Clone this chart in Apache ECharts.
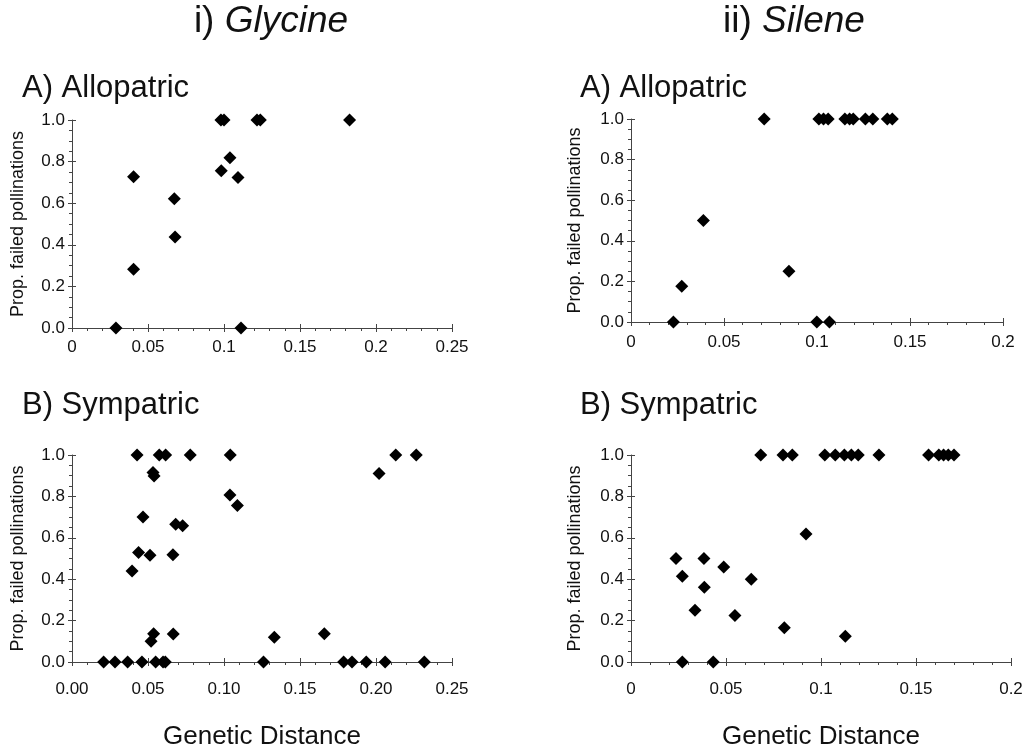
<!DOCTYPE html>
<html>
<head>
<meta charset="utf-8">
<script src="https://cdn.jsdelivr.net/npm/echarts@6/dist/echarts.min.js"></script>
<style>
  html, body { margin: 0; padding: 0; background: #fff; }
  #chart { width: 1024px; height: 747px; }
</style>
</head>
<body>
<div id="chart"></div>
<script>
// i) Glycine, A) Allopatric
var glyAlloX = [0.0289, 0.0405, 0.0405, 0.0673, 0.0678, 0.098, 0.1, 0.0982, 0.1039, 0.1092, 0.1112, 0.1217, 0.1239, 0.1826];
var glyAlloY = [0, 0.727, 0.283, 0.621, 0.437, 1, 1, 0.756, 0.819, 0.724, 0, 1, 1, 1];

// ii) Silene, A) Allopatric
var silAlloX = [0.0228, 0.0273, 0.0389, 0.0716, 0.0849, 0.0999, 0.1067, 0.101, 0.1035, 0.106, 0.115, 0.1175, 0.1195, 0.126, 0.130, 0.1378, 0.1405];
var silAlloY = [0, 0.176, 0.5, 1, 0.25, 0, 0, 1, 1, 1, 1, 1, 1, 1, 1, 1, 1];

// i) Glycine, B) Sympatric
var glySymX = [0.0395, 0.0428, 0.0438, 0.0467, 0.0513, 0.052, 0.0537, 0.0533, 0.054, 0.0574, 0.0616, 0.0664, 0.0666, 0.0682, 0.0728, 0.0778, 0.1041, 0.1039, 0.1088, 0.1331, 0.166, 0.202, 0.213, 0.2265,
               0.0208, 0.0283, 0.0366, 0.046, 0.055, 0.0599, 0.0614, 0.126, 0.1787, 0.1842, 0.1936, 0.206, 0.2318];
var glySymY = [0.44, 1, 0.529, 0.70, 0.516, 0.10, 0.137, 0.915, 0.899, 1, 1, 0.518, 0.135, 0.666, 0.658, 1, 1, 0.807, 0.756, 0.12, 0.137, 0.911, 1, 1,
               0, 0, 0, 0, 0, 0, 0, 0, 0, 0, 0, 0, 0];

// ii) Silene, B) Sympatric
var silSymX = [0.0237, 0.027, 0.027, 0.0337, 0.0384, 0.0386, 0.0433, 0.0488, 0.0547, 0.0633, 0.0807, 0.0921, 0.1128,
               0.0683, 0.080, 0.0849, 0.102, 0.1075, 0.1123, 0.116, 0.1196, 0.1305, 0.1566, 0.162, 0.1645, 0.167, 0.170];
var silSymY = [0.5, 0.414, 0, 0.25, 0.5, 0.361, 0, 0.459, 0.225, 0.40, 0.166, 0.618, 0.124,
               1, 1, 1, 1, 1, 1, 1, 1, 1, 1, 1, 1, 1, 1];

var xMax = [0.25, 0.2, 0.25, 0.2];
var yTicks = ["0.0", "0.2", "0.4", "0.6", "0.8", "1.0"];

function pairs(xs, ys) {
  return xs.map(function (x, i) { return [x, ys[i]]; });
}

var chart = echarts.init(document.getElementById("chart"));
var ink = "#111";
var axisGrey = "#444";

var grids = [
  { left: 72, top: 120, width: 380, height: 208, outerBoundsMode: "none" },
  { left: 631, top: 119, width: 372, height: 203, outerBoundsMode: "none" },
  { left: 72, top: 455, width: 380, height: 207, outerBoundsMode: "none" },
  { left: 631, top: 455, width: 380, height: 207, outerBoundsMode: "none" }
];
var labelMargin = [11, 12, 19, 19];

var xAxes = [], yAxes = [];
grids.forEach(function (g, i) {
  xAxes.push({
    gridIndex: i, type: "value", position: "bottom", min: 0, max: xMax[i], interval: 0.05,
    axisLine: { lineStyle: { color: axisGrey, width: 1 } },
    axisTick: { show: true, length: 4, lineStyle: { color: axisGrey } },
    minorTick: { show: true, splitNumber: 5, length: 3, lineStyle: { color: axisGrey } },
    splitLine: { show: false },
    axisLabel: {
      color: ink, fontSize: 17, fontFamily: "Liberation Sans, Arial", margin: labelMargin[i],
      formatter: i === 2 ? function (v) { return v.toFixed(2); } : null
    },
    name: i >= 2 ? "Genetic Distance" : "",
    nameLocation: "middle", nameGap: 62,
    nameTextStyle: { color: ink, fontSize: 26, fontFamily: "Liberation Sans, Arial" }
  });
  xAxes.push({
    gridIndex: i, type: "value", position: "bottom", min: 0, max: xMax[i], interval: 0.05,
    axisLine: { show: false },
    axisTick: { show: true, inside: true, length: 4, lineStyle: { color: axisGrey } },
    axisLabel: { show: false }, splitLine: { show: false }
  });
  yAxes.push({
    gridIndex: i, type: "value", position: "left", min: 0, max: 1, interval: 0.2,
    axisLine: { show: true, lineStyle: { color: axisGrey, width: 1 } },
    axisTick: { show: true, length: 4, lineStyle: { color: axisGrey } },
    minorTick: { show: true, splitNumber: 4, length: 3, lineStyle: { color: axisGrey } },
    splitLine: { show: false },
    axisLabel: {
      color: ink, fontSize: 17, fontFamily: "Liberation Sans, Arial", margin: 7,
      formatter: function (v) { return yTicks[Math.round(v * 5)]; }
    },
    name: "Prop. failed pollinations",
    nameLocation: "middle", nameGap: i % 2 === 0 ? 45 : 47,
    nameTextStyle: { color: ink, fontSize: 18, fontFamily: "Liberation Sans, Arial" }
  });
  yAxes.push({
    gridIndex: i, type: "value", position: "left", min: 0, max: 1, interval: 0.2,
    axisLine: { show: false },
    axisTick: { show: true, inside: true, length: 4, lineStyle: { color: axisGrey } },
    axisLabel: { show: false }, splitLine: { show: false }
  });
});

var sets = [
  pairs(glyAlloX, glyAlloY),
  pairs(silAlloX, silAlloY),
  pairs(glySymX, glySymY),
  pairs(silSymX, silSymY)
];

var series = sets.map(function (d, i) {
  return {
    type: "scatter", xAxisIndex: i * 2, yAxisIndex: i * 2, data: d,
    symbol: "diamond", symbolSize: 13, itemStyle: { color: "#000", opacity: 1 },
    clip: false, silent: true
  };
});

function txt(x, y, text, size, align, rich) {
  return {
    type: "text", x: x, y: y, silent: true,
    style: {
      text: text, fill: ink, align: align, verticalAlign: "middle",
      font: size + "px 'Liberation Sans', Arial", rich: rich
    }
  };
}
var richTitle = {
  n: { fontSize: 37, fontFamily: "Liberation Sans, Arial", fill: ink },
  it: { fontSize: 37, fontStyle: "italic", fontFamily: "Liberation Sans, Arial", fill: ink }
};

chart.setOption({
  animation: false,
  backgroundColor: "#fff",
  grid: grids,
  xAxis: xAxes,
  yAxis: yAxes,
  series: series,
  graphic: [
    txt(271, 22, "{n|i) }{it|Glycine}", 37, "center", richTitle),
    txt(794, 22, "{n|ii) }{it|Silene}", 37, "center", richTitle),
    txt(22, 88, "A) Allopatric", 31, "left"),
    txt(580, 88, "A) Allopatric", 31, "left"),
    txt(22, 405, "B) Sympatric", 31, "left"),
    txt(580, 405, "B) Sympatric", 31, "left")
  ]
});
</script>
</body>
</html>
